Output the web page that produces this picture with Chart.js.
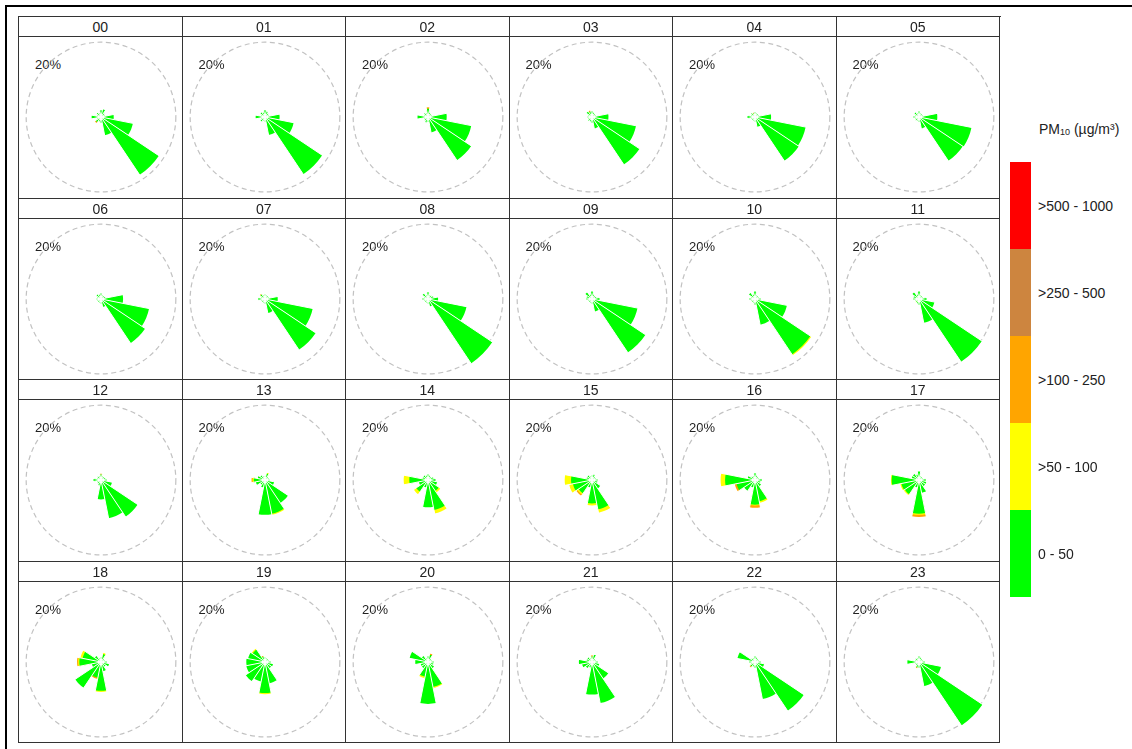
<!DOCTYPE html>
<html>
<head>
<meta charset="utf-8">
<script src="https://cdn.jsdelivr.net/npm/chart.js@4.4.1/dist/chart.umd.min.js"></script>
<style>
body { margin:0; background:#fff; width:1132px; height:749px; overflow:hidden; position:relative; font-family:"Liberation Sans", Arial, sans-serif; color:#222; }
#frame { position:absolute; left:5px; top:5px; right:0; bottom:0; border-top:2px solid #000; border-left:2px solid #000; }
#grid { position:absolute; left:18px; top:16px; width:982px; height:726px; border-left:1px solid #333; border-top:1px solid #333; }
.cell { position:absolute; box-sizing:border-box; border-right:1px solid #333; border-bottom:1px solid #333; }
.head { position:absolute; left:0; top:0; right:0; height:19px; border-bottom:1px solid #333; text-align:center; font-size:14px; line-height:20px; }
.cell canvas { position:absolute; left:1px; top:20px; }
.pct { position:absolute; left:16px; top:41px; font-size:13px; line-height:14px; }
#legend-title { position:absolute; left:1039px; top:121px; font-size:14px; }
#legend-title sub { font-size:9px; vertical-align:-1px; }
.lbox { position:absolute; left:1010px; width:21px; }
.ltxt { position:absolute; left:1038px; font-size:14px; line-height:16px; }
</style>
</head>
<body>
<div id="frame"></div>
<div id="grid"></div>
<div id="legend-title">PM<sub>10</sub> (µg/m³)</div>
<script>
// wind sectors (22.5 degrees each, N first, clockwise)
const directions = ['N','NNE','NE','ENE','E','ESE','SE','SSE','S','SSW','SW','WSW','W','WNW','NW','NNW'];
const hours = ['00','01','02','03','04','05','06','07','08','09','10','11','12','13','14','15','16','17','18','19','20','21','22','23'];

// frequency (%) per sector, PM10 0 - 50
const pm0_50 = [
  [1.8,2.1,1.2,1.0,3.4,8.7,18.6,5.0,1.5,1.2,1.7,1.0,2.5,1.0,1.4,1.0],
  [1.8,1.5,1.2,1.0,3.9,7.8,18.4,4.9,1.2,1.0,1.5,1.0,2.5,1.0,1.5,1.2],
  [2.2,1.2,1.0,1.0,5.0,11.8,13.9,4.2,1.3,1.5,1.2,1.0,2.8,1.0,1.3,1.0],
  [1.5,1.2,1.0,1.0,4.4,12.0,15.3,3.1,1.5,1.2,1.3,1.0,1.2,1.0,1.8,1.5],
  [1.3,1.0,1.0,1.0,4.3,13.8,14.1,2.7,1.2,1.0,1.0,1.0,2.0,1.0,1.3,1.0],
  [1.5,1.0,1.0,1.0,4.9,14.3,14.1,3.1,1.3,1.0,1.2,1.0,1.5,1.0,1.5,1.0],
  [1.5,1.0,1.0,1.2,5.9,13.1,14.2,2.2,1.2,1.0,1.0,1.0,1.2,1.0,1.5,1.2],
  [1.2,1.0,1.0,1.0,3.4,13.0,16.3,3.8,1.2,1.0,1.0,1.0,1.8,1.0,1.5,1.0],
  [1.8,1.0,1.2,1.5,2.7,10.5,20.7,2.0,1.2,1.0,1.0,1.0,1.5,1.0,1.8,1.0],
  [2.0,1.2,1.0,1.2,2.0,12.4,17.2,3.4,1.2,1.0,1.0,1.0,1.5,1.5,2.2,1.2],
  [2.0,1.0,1.0,1.0,1.5,8.7,17.8,7.0,1.5,1.0,1.0,1.0,1.5,1.0,2.0,1.2],
  [2.0,1.0,1.0,1.0,2.0,4.2,20.2,6.5,1.5,1.2,1.0,1.0,1.5,1.5,2.2,1.2],
  [1.5,1.0,1.0,1.2,1.5,3.0,11.8,10.4,5.2,1.5,1.2,1.0,2.0,1.0,1.2,1.0],
  [1.0,1.8,1.0,1.0,1.2,2.5,7.4,9.2,9.3,2.0,1.5,2.5,3.0,2.0,1.5,1.0],
  [1.5,1.2,1.0,1.5,2.0,2.5,3.5,8.2,7.3,2.0,3.8,2.5,5.0,1.5,1.5,1.2],
  [1.2,1.5,1.0,1.0,1.5,1.5,2.7,8.0,6.3,2.0,4.3,5.2,5.6,1.5,1.5,1.0],
  [1.8,1.2,1.0,1.0,1.8,1.5,2.0,5.8,6.6,2.0,3.5,5.0,8.0,2.0,1.2,1.0],
  [2.3,1.0,1.0,1.0,1.8,2.0,2.0,3.5,9.0,2.0,4.6,4.8,7.3,2.0,2.0,1.5],
  [1.2,2.2,1.0,1.0,1.5,2.2,1.5,2.5,7.7,4.3,8.3,2.5,5.8,5.0,2.0,1.0],
  [1.2,1.0,1.0,1.0,1.5,2.2,2.0,5.8,8.3,5.3,6.2,5.1,5.0,4.6,4.0,1.5],
  [1.5,2.0,1.0,1.0,1.5,1.5,2.0,6.8,11.2,4.0,2.0,2.0,3.4,5.0,2.0,1.0],
  [1.5,2.0,1.0,1.0,1.5,2.0,5.3,11.2,8.7,1.5,2.0,2.7,3.5,1.5,1.5,1.0],
  [1.5,1.2,1.0,1.0,1.5,2.5,15.7,10.1,1.5,1.2,1.5,1.0,1.5,4.8,1.2,1.0],
  [1.5,1.2,1.0,1.0,1.5,6.0,20.4,6.6,1.5,1.5,1.0,1.0,3.1,1.0,1.2,1.0]
];

// PM10 >50 - 100
const pm50_100 = [
  [0,0,0,0,0,0,0,0,0,0,0,0,0,0,0,0],
  [0,0,0,0,0,0,0,0,0,0,0,0,0,0,0,0],
  [0,0,0,0,0,0,0,0,0,0,0,0,0,0,0,0],
  [0,0,0,0,0,0,0,0,0,0,0,0,0,0,0,0],
  [0,0,0,0,0,0,0,0,0,0,0,0,0,0,0,0],
  [0,0,0,0,0,0,0,0,0,0,0,0,0,0,0,0],
  [0,0,0,0,0,0,0,0,0,0,0,0,0,0,0,0],
  [0,0,0,0,0,0,0,0,0,0,0,0,0,0,0,0],
  [0,0,0,0,0,0,0,0,0,0,0,0,0,0,0,0],
  [0,0,0,0,0,0,0,0,0,0,0,0,0,0,0,0],
  [0,0,0,0,0,0,0.3,0,0,0,0,0,0,0,0,0],
  [0,0,0,0,0,0,0,0,0,0,0.2,0,0,0,0,0],
  [0,0,0,0,0,0,0,0,0,0,0,0,0,0,0,0],
  [0,0.2,0,0,0,0,0,0.3,0,0,0,0,0.3,0,0,0],
  [0,0,0,0,0,0,0.5,0.9,0,0,0.8,0,1.5,0,0,0],
  [0,0,0,0,0,0,0,0.9,0.5,0,0.4,1.0,1.7,0,0,0],
  [0,0,0,0,0,0,0,0.4,0.2,0,0,0,1.2,0,0,0],
  [0,0,0,0,0,0,0,0,0.3,0,0.3,0.3,0.2,0,0,0],
  [0,0.3,0,0,0,0,0,0,0.3,0,0,0,0.3,0.6,0,0],
  [0,0,0,0,0,0,0,0,0.3,0,0,0,0,0,0.3,0],
  [0,0,0,0,0,0,0,0.3,0,0.4,0,0,0,0,0,0],
  [0,0,0,0,0,0,0,0,0,0,0,0,0,0,0,0],
  [0,0,0,0,0,0,0,0,0,0,0,0,0,0,0,0],
  [0,0,0,0,0,0,0,0,0,0,0,0,0,0,0,0]
];

// PM10 >100 - 250
const pm100_250 = [
  [0,0,0,0,0,0,0,0,0,0,0.3,0,0,0,0,0],
  [0,0,0,0,0,0,0,0,0,0,0,0,0,0,0,0],
  [0.4,0,0,0,0,0,0,0,0,0,0,0,0,0,0,0],
  [0,0,0,0,0,0,0,0,0,0,0,0,0,0,0,0.3],
  [0,0,0,0,0,0,0,0,0,0,0,0,0,0,0,0.2],
  [0,0,0,0,0,0,0,0,0,0,0,0,0,0,0,0],
  [0,0,0,0,0,0,0,0,0,0,0,0,0,0,0,0],
  [0,0,0,0,0,0,0,0,0,0,0,0,0,0,0.2,0],
  [0,0,0,0,0,0,0,0,0,0,0,0,0,0,0,0],
  [0,0,0,0,0,0,0,0,0,0,0,0,0,0,0,0],
  [0,0,0,0,0,0,0,0,0,0,0,0,0,0,0,0],
  [0,0,0,0,0,0,0,0,0,0,0,0,0,0,0,0],
  [0.2,0,0,0,0,0,0,0,0,0,0,0,0,0,0,0],
  [0,0,0,0,0,0,0,0,0,0,0,0,0.3,0,0,0],
  [0,0,0,0,0,0,0,0,0,0,0,0,0,0,0,0],
  [0,0,0,0,0,0,0,0,0,0,0.4,0,0,0,0,0],
  [0,0,0,0,0,0,0,0,0.6,0,0,0.5,0,0,0,0],
  [0,0,0,0,0,0,0,0,0.6,0,0,0,0,0,0,0],
  [0,0,0,0,0,0,0,0,0,0.3,0,0,0.3,0,0,0],
  [0,0,0,0,0,0,0,0,0,0,0,0,0,0,0,0.2],
  [0,0.3,0,0,0,0,0,0,0,0,0,0,0,0,0,0],
  [0.3,0,0,0,0,0,0,0,0,0,0,0,0,0,0,0],
  [0,0,0,0,0,0,0,0,0,0,0.3,0,0,0,0,0],
  [0,0,0,0,0,0,0,0,0,0.2,0,0,0,0,0,0]
];

const binLabels = ['0 - 50', '>50 - 100', '>100 - 250', '>250 - 500', '>500 - 1000'];
const binColors = ['#00ff00', '#ffff00', '#ffa500', '#cd853f', '#ff0000'];
const ringValue = 20;

const COLS = 6, CW = 163.5, RH = 181.5, CANVAS_W = 163, CANVAS_H = 161, RING_PX = 75.3;

// white gaps between sectors + small hole in the middle
const gapPlugin = {
  id: 'gaps',
  afterDatasetsDraw(chart) {
    const r = chart.scales.r;
    const ctx = chart.ctx;
    const totals = chart.data.datasets[0].totals;
    const n = totals.length;
    ctx.save();
    ctx.strokeStyle = '#fff';
    ctx.lineWidth = 1;
    for (let k = 0; k < n; k++) {
      const a = r.getIndexAngle(k) - Math.PI / 2;
      const len = r.getDistanceFromCenterForValue(Math.max(totals[k], totals[(k + n - 1) % n])) + 1.5;
      ctx.beginPath();
      ctx.moveTo(r.xCenter, r.yCenter);
      ctx.lineTo(r.xCenter + Math.cos(a) * len, r.yCenter + Math.sin(a) * len);
      ctx.stroke();
    }
    ctx.fillStyle = '#fff';
    ctx.beginPath();
    ctx.arc(r.xCenter, r.yCenter, 1.8, 0, Math.PI * 2);
    ctx.fill();
    ctx.restore();
  }
};

const grid = document.getElementById('grid');
hours.forEach((h, i) => {
  const c = i % COLS, row = Math.floor(i / COLS);
  const cell = document.createElement('div');
  cell.className = 'cell';
  cell.style.left = (c * CW) + 'px';
  cell.style.top = (row * RH) + 'px';
  cell.style.width = CW + 'px';
  cell.style.height = RH + 'px';
  cell.innerHTML = '<div class="head">' + h + '</div><div class="pct">' + ringValue + '%</div>';
  const cv = document.createElement('canvas');
  cv.width = CANVAS_W; cv.height = CANVAS_H;
  cell.appendChild(cv);
  grid.appendChild(cell);

  const g = pm0_50[i], y = pm50_100[i], o = pm100_250[i];
  const s1 = g.map((v, k) => y[k] > 0 ? v + y[k] : 0);
  const s2 = g.map((v, k) => o[k] > 0 ? v + y[k] + o[k] : 0);
  const totals = g.map((v, k) => v + y[k] + o[k]);
  const rMax = ringValue * (Math.min(CANVAS_W, CANVAS_H) / 2) / RING_PX;

  new Chart(cv, {
    type: 'polarArea',
    data: {
      labels: directions,
      datasets: [
        { label: binLabels[0], data: g, totals: totals, backgroundColor: binColors[0], borderWidth: 0, clip: false },
        { label: binLabels[1], data: s1, backgroundColor: binColors[1], borderWidth: 0, clip: false },
        { label: binLabels[2], data: s2, backgroundColor: binColors[2], borderWidth: 0, clip: false }
      ]
    },
    options: {
      responsive: false,
      animation: false,
      layout: { padding: 0 },
      plugins: { legend: { display: false }, tooltip: { enabled: false } },
      scales: {
        r: {
          min: 0,
          max: rMax,
          startAngle: -11.25,
          afterBuildTicks: s => { s.ticks = [{ value: 0 }, { value: ringValue }]; },
          ticks: { display: false },
          grid: { color: '#c2c2c2', lineWidth: 1.2 },
          border: { dash: [5, 3.5] },
          angleLines: { display: false },
          pointLabels: { display: false }
        }
      }
    },
    plugins: [gapPlugin]
  });
});

// colour key, top to bottom: highest bin first
const boxTop = 162, boxH = 87;
for (let k = binLabels.length - 1; k >= 0; k--) {
  const pos = binLabels.length - 1 - k;
  const b = document.createElement('div');
  b.className = 'lbox';
  b.style.top = (boxTop + pos * boxH) + 'px';
  b.style.height = boxH + 'px';
  b.style.background = binColors[k];
  document.body.appendChild(b);
  const t = document.createElement('div');
  t.className = 'ltxt';
  t.style.top = (boxTop + pos * boxH + boxH / 2 - 8) + 'px';
  t.textContent = binLabels[k];
  document.body.appendChild(t);
}
</script>
</body>
</html>
